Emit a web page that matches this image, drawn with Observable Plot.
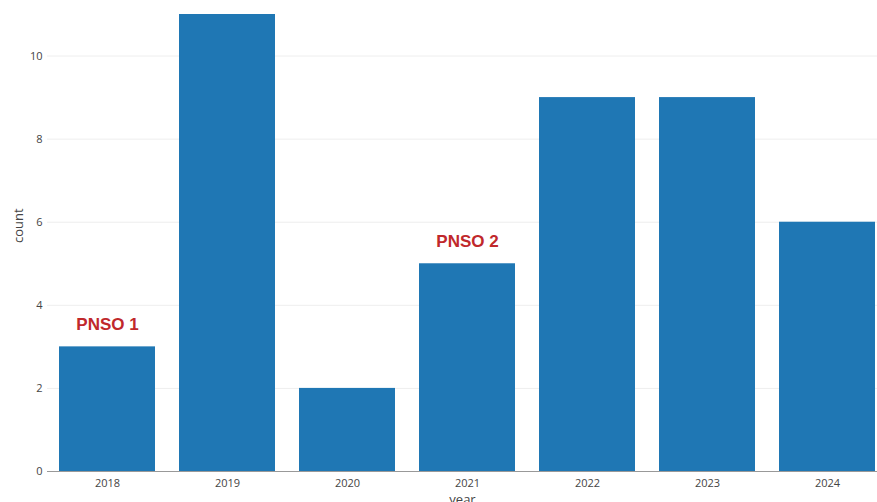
<!DOCTYPE html>
<html>
<head>
<meta charset="utf-8">
<script src="https://cdn.jsdelivr.net/npm/d3@7"></script>
<script src="https://cdn.jsdelivr.net/npm/@observablehq/plot@0.6"></script>
<style>
  html, body { margin: 0; padding: 0; background: #fff; overflow: hidden; }
  #chart svg { display: block; }
</style>
</head>
<body>
<div id="chart"></div>
<script>
const years = ["2018", "2019", "2020", "2021", "2022", "2023", "2024"];
const counts = [3, 11, 2, 5, 9, 9, 6];
const yTicks = [0, 2, 4, 6, 8, 10];
const annotYears = ["2018", "2021"];
const annotLabels = ["PNSO 1", "PNSO 2"];

const data = years.map((y, i) => ({year: y, count: counts[i]}));
const annots = annotYears.map((y, i) => ({year: y, label: annotLabels[i], count: counts[years.indexOf(y)]}));

const chart = Plot.plot({
  width: 877,
  height: 502,
  marginLeft: 47,
  marginRight: 0,
  marginTop: 14,
  marginBottom: 31,
  style: {fontFamily: "'Open Sans', sans-serif", fontSize: "11px", color: "#444", background: "#fff"},
  x: {domain: years, paddingInner: 0.2, paddingOuter: 0.1, label: null, range: [47, 887]},
  y: {domain: [0, 11], label: null},
  marks: [
    Plot.gridY(yTicks.filter(d => d > 0), {stroke: "#eeeeee", strokeOpacity: 1, strokeWidth: 1}),
    Plot.barY(data, {x: "year", y: "count", fill: "#1f77b4"}),
    Plot.ruleY([0], {stroke: "#999", strokeWidth: 1}),
    Plot.axisY(yTicks, {tickSize: 0, tickPadding: 5, label: null, fill: "#444", fontSize: 11}),
    Plot.axisX({tickSize: 0, tickPadding: 8, label: null, fill: "#444", fontSize: 11}),
    Plot.text(annots, {x: "year", y: "count", text: "label", dy: -22, fill: "#c0282b",
      fontWeight: "bold", fontSize: 17, fontFamily: "'Liberation Sans', Arial, sans-serif"}),
    Plot.text(["count"], {frameAnchor: "left", dx: -29, rotate: -90, fontSize: 13, fill: "#444"}),
    Plot.text(["year"], {frameAnchor: "bottom", dy: 32, fontSize: 13, fill: "#444"})
  ]
});
document.getElementById("chart").appendChild(chart);
</script>
</body>
</html>
